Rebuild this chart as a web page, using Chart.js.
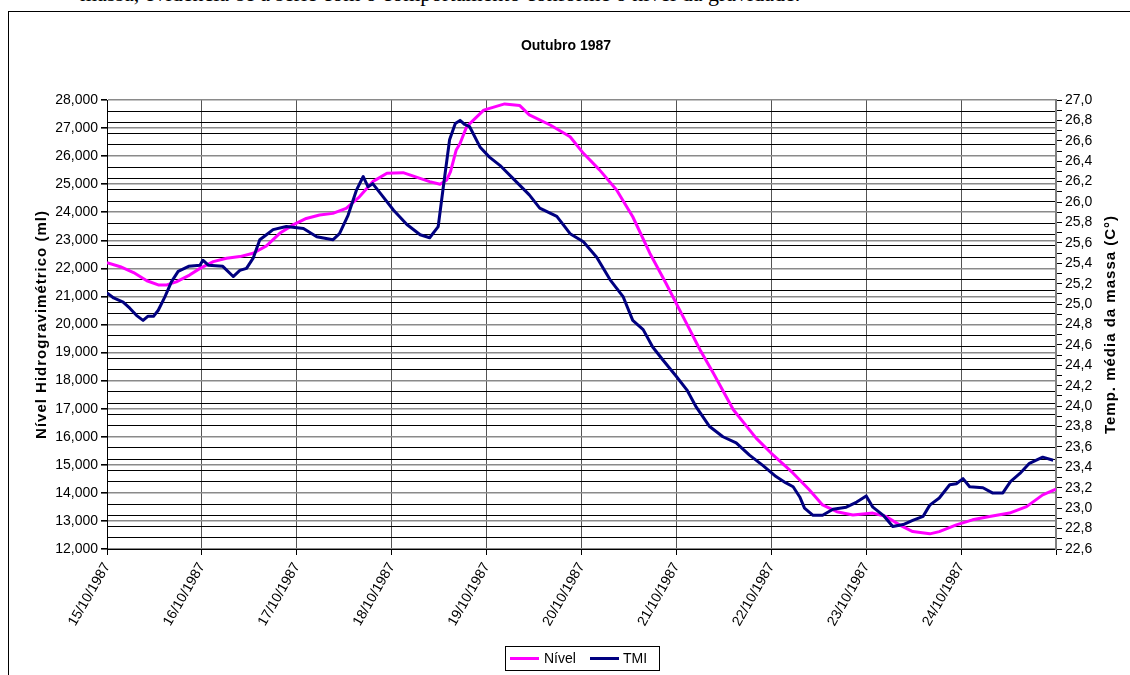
<!DOCTYPE html>
<html><head><meta charset="utf-8">
<script src="https://cdn.jsdelivr.net/npm/chart.js@4.4.1/dist/chart.umd.min.js"></script>
<style>
html,body{margin:0;padding:0;background:#fff;overflow:hidden;width:1130px;height:675px;}
#wrap{position:relative;width:1130px;height:675px;overflow:hidden;}
#doc{position:absolute;left:80px;top:-19px;font:22px 'Liberation Serif','Times New Roman',serif;white-space:nowrap;color:#000;}
canvas{position:absolute;left:0;top:0;}
</style></head><body>
<div id="wrap"><div id="doc">massa, evidencia-se a série com o comportamento conforme o nível da gravidade.</div><canvas id="c" width="1130" height="675"></canvas></div>
<script>
const chartTitle = 'Outubro 1987';
const leftAxisTitle = 'Nível Hidrogravimétrico (ml)';
const rightAxisTitle = 'Temp. média da massa (C°)';
const dayLabels = ['15/10/1987','16/10/1987','17/10/1987','18/10/1987','19/10/1987','20/10/1987','21/10/1987','22/10/1987','23/10/1987','24/10/1987'];

const nivelDays = [0.00,0.14,0.28,0.42,0.54,0.63,0.73,0.87,0.98,1.12,1.26,1.40,1.54,1.68,1.82,1.96,2.10,2.24,2.38,2.52,2.66,2.80,2.95,3.12,3.26,3.40,3.51,3.58,3.62,3.68,3.72,3.79,3.97,4.19,4.35,4.45,4.67,4.88,5.02,5.19,5.37,5.54,5.72,5.89,6.07,6.25,6.39,6.60,6.84,7.00,7.23,7.40,7.54,7.69,7.86,8.07,8.21,8.35,8.49,8.67,8.77,8.95,9.12,9.30,9.51,9.69,9.86,10.00];
const nivelValues = [22200,22060,21850,21560,21410,21410,21520,21760,22000,22240,22360,22420,22540,22800,23250,23550,23780,23900,23960,24140,24550,25090,25390,25410,25250,25090,25000,25150,25450,26220,26450,27050,27640,27860,27800,27470,27110,26690,26100,25510,24790,23840,22540,21470,20280,19090,18260,16960,15950,15410,14700,14110,13570,13330,13210,13280,13160,12860,12620,12540,12620,12860,13040,13160,13280,13510,13930,14130];

const tmiDays = [0.00,0.07,0.17,0.24,0.31,0.38,0.43,0.49,0.54,0.61,0.68,0.75,0.86,0.98,1.01,1.07,1.22,1.33,1.40,1.47,1.54,1.61,1.68,1.75,1.89,2.07,2.21,2.38,2.45,2.54,2.63,2.70,2.75,2.80,2.91,3.02,3.16,3.30,3.40,3.49,3.54,3.61,3.67,3.72,3.77,3.82,3.93,4.03,4.14,4.28,4.45,4.56,4.74,4.88,5.02,5.16,5.30,5.44,5.54,5.65,5.75,5.86,6.00,6.11,6.21,6.35,6.49,6.63,6.77,6.91,7.05,7.15,7.23,7.30,7.35,7.44,7.54,7.65,7.79,7.90,8.00,8.07,8.18,8.28,8.39,8.49,8.60,8.67,8.77,8.88,8.95,9.02,9.09,9.23,9.33,9.44,9.52,9.62,9.72,9.86,9.97];
const tmiValues = [25.11,25.06,25.02,24.96,24.89,24.84,24.88,24.88,24.94,25.07,25.22,25.32,25.37,25.38,25.43,25.38,25.37,25.27,25.33,25.35,25.45,25.63,25.68,25.73,25.76,25.74,25.66,25.63,25.69,25.87,26.12,26.25,26.15,26.18,26.05,25.92,25.78,25.68,25.65,25.76,26.12,26.61,26.77,26.80,26.76,26.74,26.54,26.44,26.36,26.23,26.07,25.94,25.86,25.69,25.61,25.46,25.24,25.07,24.84,24.75,24.58,24.45,24.29,24.16,23.99,23.80,23.70,23.64,23.52,23.42,23.31,23.25,23.21,23.11,23.00,22.93,22.93,22.99,23.01,23.06,23.12,23.01,22.93,22.82,22.84,22.88,22.92,23.03,23.10,23.23,23.24,23.29,23.21,23.20,23.15,23.15,23.26,23.34,23.44,23.50,23.47];

const leftMin = 12000, leftMax = 28000, leftMajor = 1000, leftGridStep = 400;
const rightMin = 22.6, rightMax = 27.0;

const FONT = "'Liberation Sans', Arial, sans-serif";

const decor = {
  id: 'decor',
  afterDraw(chart) {
    const ctx = chart.ctx;
    ctx.save();
    ctx.strokeStyle = '#000'; ctx.lineWidth = 1;
    ctx.strokeRect(8.5, 11.5, 1200, 700);
    ctx.fillStyle = '#000';
    ctx.font = 'bold 14px ' + FONT;
    ctx.textAlign = 'center'; ctx.textBaseline = 'middle';
    ctx.fillText(chartTitle, 566, 46);
    const midY = (chart.chartArea.top + chart.chartArea.bottom) / 2;
    ctx.font = 'bold 15px ' + FONT;
    if ('letterSpacing' in ctx) ctx.letterSpacing = '1px';
    ctx.save(); ctx.translate(42, midY); ctx.rotate(-Math.PI/2); ctx.fillText(leftAxisTitle, 0, 0); ctx.restore();
    ctx.save(); ctx.translate(1111, midY); ctx.rotate(-Math.PI/2); ctx.fillText(rightAxisTitle, 0, 0); ctx.restore();
    if ('letterSpacing' in ctx) ctx.letterSpacing = '0px';
    ctx.strokeStyle = '#000'; ctx.lineWidth = 1;
    ctx.strokeRect(505.5, 646.5, 154, 24);
    const ds = chart.data.datasets;
    const entries = [{x:510, tx:544}, {x:590, tx:623}];
    ctx.font = '14px ' + FONT; ctx.textAlign = 'left';
    ds.forEach((d, i) => {
      const e = entries[i];
      ctx.strokeStyle = d.borderColor; ctx.lineWidth = 3;
      ctx.beginPath(); ctx.moveTo(e.x, 658.5); ctx.lineTo(e.x + 29, 658.5); ctx.stroke();
      ctx.fillStyle = '#000';
      ctx.fillText(d.label, e.tx, 659);
    });
    ctx.restore();
  }
};

new Chart(document.getElementById('c'), {
  type: 'line',
  data: {
    datasets: [
      { label: 'Nível', yAxisID: 'y', order: 1, borderColor: '#FF00FF', backgroundColor: '#FF00FF',
        data: nivelDays.map((d, i) => ({x: d, y: nivelValues[i]})) },
      { label: 'TMI', yAxisID: 'y1', order: 0, borderColor: '#000080', backgroundColor: '#000080',
        data: tmiDays.map((d, i) => ({x: d, y: tmiValues[i]})) }
    ]
  },
  options: {
    responsive: false, animation: false,
    layout: { padding: { top: 100, left: 0, right: 0, bottom: 0 } },
    plugins: { legend: { display: false }, title: { display: false }, tooltip: { enabled: false } },
    elements: { point: { radius: 0 }, line: { borderWidth: 3, tension: 0, borderJoinStyle: 'round' } },
    scales: {
      x: {
        type: 'linear', position: 'bottom', min: 0, max: dayLabels.length,
        afterFit(s) { s.height = 126; },
        afterBuildTicks(s) { const t = []; for (let i = 0; i <= dayLabels.length; i++) t.push({value: i}); s.ticks = t; },
        ticks: { autoSkip: false, minRotation: 60, maxRotation: 60, padding: 5, color: '#000',
          font: { family: FONT, size: 14 }, callback: (v) => dayLabels[v] || '' },
        grid: { color: '#555', lineWidth: 1, tickLength: 6, tickColor: '#000' },
        border: { color: '#000', width: 1 }
      },
      y: {
        position: 'left', min: leftMin, max: leftMax,
        afterFit(s) { s.width = 107; },
        afterBuildTicks(s) {
          const t = [];
          for (let v = leftMin; v <= leftMax; v += 200) {
            if (v % leftGridStep === 0 || v % leftMajor === 0) t.push({value: v});
          }
          s.ticks = t;
        },
        ticks: { autoSkip: false, padding: 3, color: '#000', font: { family: FONT, size: 14 },
          callback: (v) => v % leftMajor === 0 ? v.toLocaleString('en-US') : '' },
        grid: {
          color: (c) => (c.tick && c.tick.value % leftMajor === 0) ? '#8a8a8a' : '#000',
          lineWidth: (c) => (c.tick && c.tick.value % leftMajor === 0) ? 1.6 : 1,
          tickLength: 6,
          tickColor: (c) => (c.tick && c.tick.value % leftMajor === 0) ? '#000' : 'rgba(0,0,0,0)'
        },
        border: { color: '#000', width: 1 }
      },
      y1: {
        position: 'right', min: rightMin, max: rightMax,
        afterFit(s) { s.width = 74; },
        afterBuildTicks(s) {
          const t = [];
          const n = Math.round((rightMax - rightMin) * 10);
          for (let i = 0; i <= n; i++) t.push({value: Math.round((rightMin * 10 + i)) / 10});
          s.ticks = t;
        },
        ticks: { autoSkip: false, padding: 3, color: '#000', font: { family: FONT, size: 14 },
          callback: (v) => Math.round(v * 10) % 2 === 0 ? v.toFixed(1).replace('.', ',') : '' },
        grid: { drawOnChartArea: false, tickLength: 6, tickColor: '#000' },
        border: { color: '#808080', width: 2 }
      }
    }
  },
  plugins: [decor]
});
</script>
</body></html>
